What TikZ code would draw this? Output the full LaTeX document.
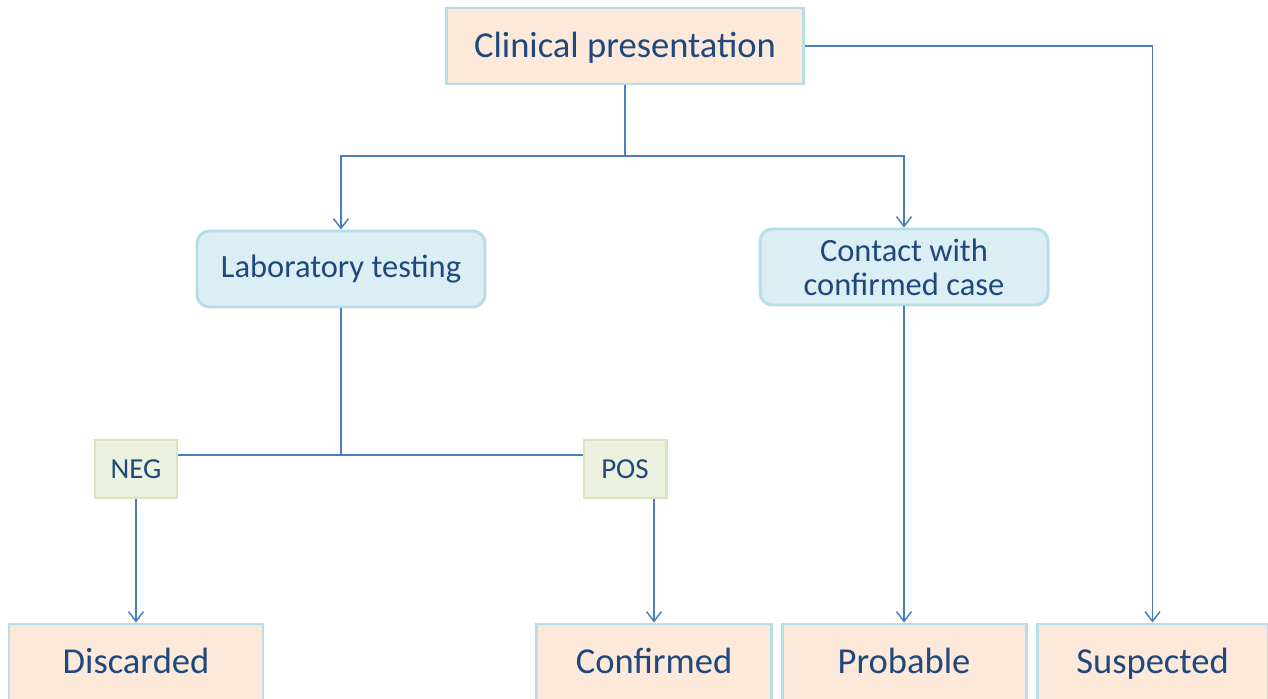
\documentclass[tikz,border=0pt]{standalone}
\usepackage{fontspec}
\setmainfont{Carlito}
\usepackage{xcolor}
\usetikzlibrary{arrows.meta}

\definecolor{peach}{HTML}{FDE9D9}
\definecolor{paleblue}{HTML}{DBEEF4}
\definecolor{palegreen}{HTML}{EBF1DE}
\definecolor{rimblue}{HTML}{B7DDE8}
\definecolor{rimgreen}{HTML}{D7E4BD}
\definecolor{linkblue}{HTML}{4A7EBB}
\definecolor{inkblue}{HTML}{1F497D}

\tikzset{
  casebox/.style={draw=rimblue, fill=peach, line width=1.7pt, text=inkblue,
    font=\fontsize{20.8}{22}\selectfont, minimum height=76*0.02cm,
    text height=15pt, text depth=1.6pt, inner sep=0pt},
  testbox/.style={draw=rimblue, fill=paleblue, line width=1.7pt, text=inkblue,
    rounded corners=7pt, font=\fontsize{18.5}{19.5}\selectfont, align=center,
    minimum width=288*0.02cm, minimum height=76*0.02cm, inner sep=0pt},
  resultbox/.style={draw=rimgreen, fill=palegreen, line width=1.7pt, text=inkblue,
    font=\fontsize{16.5}{18}\selectfont, minimum width=82*0.02cm,
    minimum height=58*0.02cm, text height=12.4pt, text depth=1.6pt, inner sep=0pt},
  link/.style={draw=linkblue, line width=0.85pt},
  flow/.style={link, -{Straight Barb[length=5.5pt,width=8.5pt]}}
}

\begin{document}
\begin{tikzpicture}[x=0.02cm, y=-0.02cm]
  \useasboundingbox (0,0) rectangle (1268,699);

  \node[casebox, minimum width=357*0.02cm] (clin) at (625,46) {Clinical presentation};
  \node[testbox] (lab) at (341,269) {Laboratory testing};
  \node[testbox] (contact) at (904,267) {Contact with\\confirmed case};
  \node[resultbox] (neg) at (136,469) {NEG};
  \node[resultbox] (pos) at (625,469) {POS};

  \node[casebox, minimum width=254*0.02cm] (discarded) at (136,662) {Discarded};
  \node[casebox, minimum width=235*0.02cm] (confirmed) at (654,662) {Confirmed};
  \node[casebox, minimum width=244*0.02cm] (probable) at (904,662) {Probable};
  \node[casebox, minimum width=231*0.02cm] (suspected) at (1152.5,662) {Suspected};

  \coordinate (fork) at (625,156);
  \coordinate (labfork) at (341,455);

  \draw[link] (clin.south) -- (fork);
  \draw[flow] (fork) -| (lab.north);
  \draw[flow] (fork) -| (contact.north);
  \draw[flow] (clin.east) -| (suspected.north);

  \draw[link] (lab.south) -- (labfork);
  \draw[link] (labfork) -- (labfork -| neg.east);
  \draw[link] (labfork) -- (labfork -| pos.west);

  \draw[flow] (neg.south) -- (discarded.north);
  \draw[flow] (confirmed.north |- pos.south) -- (confirmed.north);
  \draw[flow] (contact.south) -- (probable.north);
\end{tikzpicture}
\end{document}
